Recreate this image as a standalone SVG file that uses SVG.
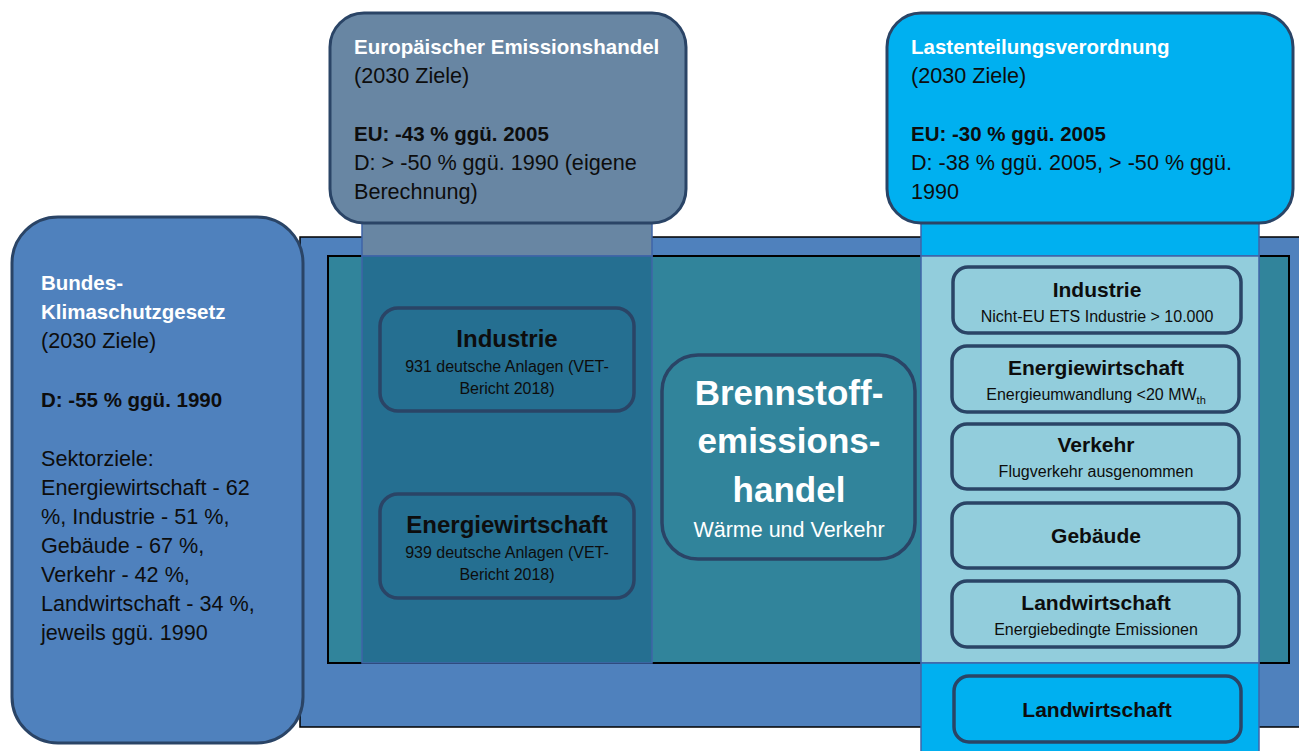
<svg xmlns="http://www.w3.org/2000/svg" width="1299" height="751" viewBox="0 0 1299 751">
<style>
text{font-family:"Liberation Sans",Arial,sans-serif;fill:#0d0d0d}
.w{fill:#ffffff}
.big{stroke:#2a4466;stroke-width:3}
.sm{stroke:#2a4466;stroke-width:3.5}
.t21{font-size:21.6px}
.h{font-size:20.5px;font-weight:bold}
.t24{font-size:24px;font-weight:bold}
.t16{font-size:16px}
.r21{font-size:21px;font-weight:bold}
</style>
<rect width="1299" height="751" fill="#ffffff"/>
<g id="background">
<rect x="300" y="237" width="1005" height="490" fill="#4f81bd" stroke="#000" stroke-width="1.5"/>
<rect x="328" y="256" width="961" height="407" fill="#31849b" stroke="#000" stroke-width="2"/>
</g>
<g id="col-ets">
<rect x="362" y="222" width="290" height="34" fill="#6886a3" stroke="#3f64a8" stroke-width="1.5"/>
<rect x="362" y="256" width="290" height="407" fill="#256f91" stroke="#3f64a8" stroke-width="1.5"/>
</g>
<g id="col-esr">
<rect x="921" y="222" width="338" height="34" fill="#00b0f0" stroke="#3f64a8" stroke-width="1.5"/>
<rect x="921" y="256" width="338" height="407" fill="#92cddc" stroke="#3f64a8" stroke-width="1.5"/>
<rect x="921" y="663" width="338" height="95" fill="#00b0f0" stroke="#3f64a8" stroke-width="1.5"/>
</g>
<g id="box-eu-ets">
<rect x="330" y="13" width="356" height="210" rx="34" fill="#6886a3" class="big"/>
<text x="354" y="54" class="h w">Europäischer Emissionshandel</text>
<text x="354" y="83" class="t21">(2030 Ziele)</text>
<text x="354" y="141" class="h">EU: -43 % ggü. 2005</text>
<text x="354" y="170" class="t21">D: &gt; -50 % ggü. 1990 (eigene</text>
<text x="354" y="199" class="t21">Berechnung)</text>
</g>
<g id="box-esr">
<rect x="887" y="13" width="406" height="210" rx="34" fill="#00b0f0" class="big"/>
<text x="911" y="54" class="h w">Lastenteilungsverordnung</text>
<text x="911" y="83" class="t21">(2030 Ziele)</text>
<text x="911" y="141" class="h">EU: -30 % ggü. 2005</text>
<text x="911" y="170" class="t21">D: -38 % ggü. 2005, &gt; -50 % ggü.</text>
<text x="911" y="199" class="t21">1990</text>
</g>
<g id="box-ksg">
<rect x="12" y="217" width="291" height="526" rx="46" fill="#4f81bd" class="big"/>
<text x="41" y="290" class="h w">Bundes-</text>
<text x="41" y="319" class="h w">Klimaschutzgesetz</text>
<text x="41" y="348" class="t21">(2030 Ziele)</text>
<text x="41" y="407" class="h">D: -55 % ggü. 1990</text>
<text x="41" y="466" class="t21">Sektorziele:</text>
<text x="41" y="495" class="t21">Energiewirtschaft - 62</text>
<text x="41" y="524" class="t21">%, Industrie - 51 %,</text>
<text x="41" y="553" class="t21">Gebäude - 67 %,</text>
<text x="41" y="582" class="t21">Verkehr - 42 %,</text>
<text x="41" y="611" class="t21">Landwirtschaft - 34 %,</text>
<text x="41" y="640" class="t21">jeweils ggü. 1990</text>
</g>
<g id="ets-industrie" text-anchor="middle">
<rect x="380" y="308" width="254" height="103" rx="18" fill="#256f91" class="sm"/>
<text x="507" y="347" class="t24">Industrie</text>
<text x="507" y="372" class="t16">931 deutsche Anlagen (VET-</text>
<text x="507" y="394" class="t16">Bericht 2018)</text>
</g>
<g id="ets-energie" text-anchor="middle">
<rect x="380" y="494" width="254" height="104" rx="18" fill="#256f91" class="sm"/>
<text x="507" y="533" class="t24">Energiewirtschaft</text>
<text x="507" y="558" class="t16">939 deutsche Anlagen (VET-</text>
<text x="507" y="580" class="t16">Bericht 2018)</text>
</g>
<g id="behg" text-anchor="middle">
<rect x="662" y="355" width="253" height="204" rx="36" fill="#31849b" class="sm"/>
<text x="789" y="405" font-size="35" font-weight="bold" class="w">Brennstoff-</text>
<text x="789" y="453" font-size="35" font-weight="bold" class="w">emissions-</text>
<text x="789" y="502" font-size="35" font-weight="bold" class="w">handel</text>
<text x="789" y="537" font-size="21.5" class="w">Wärme und Verkehr</text>
</g>
<g id="esr-industrie" text-anchor="middle">
<rect x="953" y="267" width="288" height="66" rx="15" fill="#92cddc" class="sm"/>
<text x="1097" y="297" class="r21">Industrie</text>
<text x="1097" y="322" class="t16">Nicht-EU ETS Industrie &gt; 10.000</text>
</g>
<g id="esr-energie" text-anchor="middle">
<rect x="952" y="346" width="287" height="66" rx="15" fill="#92cddc" class="sm"/>
<text x="1096" y="375" class="r21">Energiewirtschaft</text>
<text x="1096" y="400" class="t16">Energieumwandlung &lt;20 MW<tspan font-size="11" dy="4">th</tspan></text>
</g>
<g id="esr-verkehr" text-anchor="middle">
<rect x="952" y="424" width="287" height="65" rx="15" fill="#92cddc" class="sm"/>
<text x="1096" y="452" class="r21">Verkehr</text>
<text x="1096" y="477" class="t16">Flugverkehr ausgenommen</text>
</g>
<g id="esr-gebaeude" text-anchor="middle">
<rect x="952" y="503" width="287" height="65" rx="15" fill="#92cddc" class="sm"/>
<text x="1096" y="543" class="r21">Gebäude</text>
</g>
<g id="esr-landwirtschaft" text-anchor="middle">
<rect x="952" y="581" width="287" height="66" rx="15" fill="#92cddc" class="sm"/>
<text x="1096" y="610" class="r21">Landwirtschaft</text>
<text x="1096" y="635" class="t16">Energiebedingte Emissionen</text>
</g>
<g id="landwirtschaft" text-anchor="middle">
<rect x="954" y="676" width="287" height="66" rx="15" fill="#00b0f0" class="sm"/>
<text x="1097" y="717" class="r21">Landwirtschaft</text>
</g>
<g id="connectors"></g>
</svg>
